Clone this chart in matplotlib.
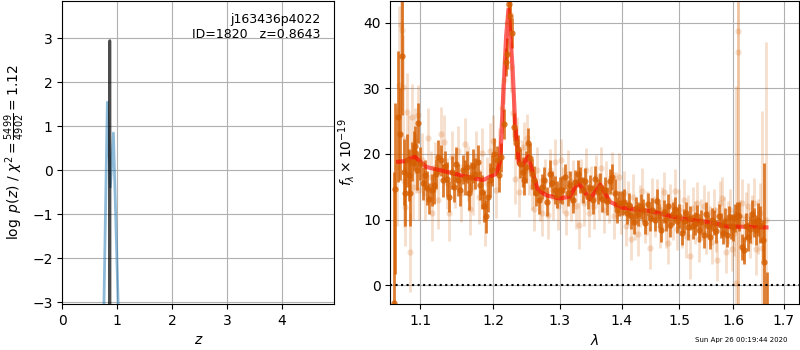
import numpy as np
import matplotlib
matplotlib.use('Agg')
import matplotlib.pyplot as plt
from matplotlib.ticker import FixedLocator, FixedFormatter, NullLocator

# --- p(z) panel ---
z_coarse = [0.740, 0.755, 0.820, 0.875, 0.930, 1.020, 1.040]
lnp_coarse = [-6.0, -3.2, 1.55, -0.38, 0.85, -3.2, -6.0]
z_fine = [0.8620, 0.8643, 0.8666]
lnp_fine = [-6.0, 2.95, -6.0]
z_best = 0.8643
obj_root = 'j163436p4022'
obj_id = 1820
chi2_num, chi2_den = 5499, 4902

# --- spectrum, first set (dark) ---
wave_a = [1.0655, 1.0675, 1.0710, 1.0735, 1.0755, 1.0780, 1.0800, 1.0820, 1.0845, 1.0865,
          1.0890, 1.0910, 1.0935, 1.0955, 1.0975, 1.1000,
          1.103, 1.106, 1.109, 1.112, 1.115, 1.118, 1.121, 1.124, 1.127, 1.130,
          1.133, 1.136, 1.139, 1.142, 1.145, 1.148, 1.151, 1.154, 1.157, 1.160,
          1.163, 1.166, 1.169, 1.172, 1.175, 1.178, 1.181, 1.184, 1.187, 1.190,
          1.193, 1.196, 1.199, 1.202, 1.205, 1.208,
          1.2115, 1.2158, 1.2184, 1.2200, 1.2225, 1.2250, 1.2276, 1.2306, 1.2341, 1.2370,
          1.2400, 1.2431, 1.2460, 1.2490, 1.2514, 1.2540, 1.2570, 1.2600,
          1.264, 1.268, 1.272, 1.276, 1.280, 1.284, 1.288, 1.292, 1.296, 1.300,
          1.304, 1.308, 1.312, 1.316, 1.320, 1.324, 1.328, 1.332, 1.336, 1.340,
          1.344, 1.348, 1.352, 1.356, 1.360, 1.364, 1.368, 1.372, 1.376, 1.380,
          1.384, 1.388, 1.392, 1.396,
          1.400, 1.404, 1.408, 1.412, 1.416, 1.420, 1.424, 1.428, 1.432, 1.436,
          1.440, 1.444, 1.448, 1.452, 1.456, 1.460, 1.464, 1.468, 1.472, 1.476,
          1.480, 1.484, 1.488, 1.492, 1.496,
          1.500, 1.504, 1.508, 1.512, 1.516, 1.520, 1.524, 1.528, 1.532, 1.536,
          1.540, 1.544, 1.548, 1.552, 1.556, 1.560, 1.564, 1.568, 1.572, 1.576,
          1.580, 1.584, 1.588, 1.592, 1.596, 1.600, 1.604, 1.608, 1.612, 1.616,
          1.620, 1.624, 1.628, 1.632, 1.636, 1.640, 1.644, 1.648, 1.652, 1.658,
          1.660, 1.6655]
flux_a = [-2.8, 14.7, 25.7, 23.0, 35.0, 17.2, 14.0, 19.0, 16.8, 14.0,
          18.8, 20.5, 21.2, 17.5, 24.7, 18.5,
          15.5, 16.8, 14.8, 13.2, 14.5, 15.2, 17.0, 19.5, 19.0, 16.0,
          18.2, 16.2, 13.5, 17.2, 15.0, 18.5, 16.0, 14.5, 17.6, 16.4,
          18.0, 14.0, 16.5, 18.2, 17.0, 18.8, 15.2, 14.2, 12.0, 10.5,
          13.5, 16.0, 17.5, 20.0, 19.0, 16.8,
          19.5, 24.6, 34.0, 35.3, 42.9, 41.0, 38.4, 24.1, 21.6, 20.7,
          18.5, 17.3, 16.0, 18.0, 21.6, 19.4, 17.0, 16.0,
          14.0, 13.0, 15.0, 16.0, 12.7, 17.0, 15.5, 14.5, 13.8, 14.5,
          14.5, 16.5, 14.0, 15.2, 13.0, 15.7, 17.0, 16.0, 14.5, 15.8,
          13.5, 14.8, 13.0, 16.2, 14.2, 15.0, 13.2, 14.5, 12.8, 15.8,
          16.5, 14.0, 11.5, 12.5,
          12.5, 12.7, 11.0, 12.2, 10.5, 9.6, 11.8, 10.8, 12.0, 11.4,
          9.5, 12.3, 10.2, 11.5, 9.9, 12.8, 10.6, 8.4, 11.2, 10.0,
          12.0, 9.2, 10.9, 11.6, 9.8,
          10.5, 8.0, 9.8, 11.0, 8.8, 10.2, 9.0, 9.4, 10.5, 8.4,
          9.6, 7.6, 10.8, 9.0, 7.4, 10.0, 9.5, 8.2, 10.6, 9.1,
          8.0, 9.8, 7.6, 10.4, 9.0, 8.8, 10.2, 10.7, 10.5, 5.8,
          5.3, 9.0, 7.4, 8.5, 10.9, 9.6, 8.4, 10.0, 9.2, 6.9,
          3.6, -4.0]
err_a = [20.0, 13.0, 10.0, 7.0, 9.0, 5.0, 5.0, 4.0, 4.0, 5.0,
         3.0, 3.0, 3.0, 3.0, 3.0, 2.5,
         2.5, 2.2, 2.6, 2.4, 2.5, 2.8, 2.3, 2.6, 2.4, 2.5,
         2.2, 2.6, 2.4, 2.5, 2.3, 2.6, 2.4, 2.5, 2.2, 2.6,
         2.4, 2.5, 2.3, 2.6, 2.4, 2.5, 2.2, 2.6, 2.4, 2.5,
         2.3, 2.6, 2.4, 2.5, 2.2, 2.6,
         2.2, 2.3, 2.2, 2.4, 2.3, 2.2, 2.3, 2.2, 2.4, 2.2,
         2.2, 2.3, 2.2, 2.4, 2.3, 2.2, 2.3, 2.2,
         2.0, 2.1, 1.9, 2.0, 2.2, 2.0, 1.9, 2.1, 2.0, 2.0,
         2.1, 1.9, 2.0, 2.2, 2.0, 1.9, 2.1, 2.0, 2.0, 2.1,
         1.9, 2.0, 2.2, 2.0, 1.9, 2.1, 2.0, 2.0, 2.1, 1.9,
         2.0, 2.2, 2.0, 1.9,
         1.8, 1.9, 1.7, 1.8, 1.9, 1.8, 1.7, 1.8, 1.9, 1.8,
         1.7, 1.8, 1.9, 1.8, 1.7, 1.8, 1.9, 1.8, 1.7, 1.8,
         1.9, 1.8, 1.7, 1.8, 1.9,
         1.8, 1.9, 1.8, 1.7, 1.9, 1.8, 1.9, 1.8, 1.7, 1.9,
         1.8, 1.9, 1.8, 1.7, 1.9, 1.8, 1.9, 1.8, 1.7, 1.9,
         1.8, 1.9, 1.8, 1.7, 1.9, 2.0, 2.1, 2.0, 2.2, 2.0,
         2.1, 2.0, 2.2, 2.1, 2.0, 2.2, 2.3, 2.5, 2.8, 3.0,
         15.0, 6.0]

# --- spectrum, second set (light) ---
wave_b = [1.0700, 1.0725, 1.0745, 1.0760, 1.0775, 1.0790, 1.0805, 1.0825, 1.0850, 1.0868,
          1.0885, 1.0905, 1.0925, 1.0945, 1.0965, 1.0985,
          1.1015, 1.1055, 1.1095, 1.1135, 1.1160, 1.1200, 1.1240, 1.1280, 1.1310, 1.1350,
          1.1390, 1.1430, 1.1470, 1.1510, 1.1550, 1.1600, 1.1640, 1.1680, 1.1720, 1.1760,
          1.1800, 1.1840, 1.1880, 1.1920, 1.1960, 1.2000, 1.2040, 1.2080,
          1.2135, 1.2165, 1.2205, 1.2240, 1.2265, 1.2290, 1.2320, 1.2350, 1.2380, 1.2420,
          1.2460, 1.2500, 1.2530, 1.2570,
          1.2610, 1.2650, 1.2690, 1.2730, 1.2770, 1.2810, 1.2850, 1.2890, 1.2930, 1.2970,
          1.3010, 1.3050, 1.3090, 1.3130, 1.3170, 1.3210, 1.3250, 1.3300, 1.3340, 1.3380,
          1.3420, 1.3460, 1.3500, 1.3540, 1.3580, 1.3620, 1.3660, 1.3700, 1.3740, 1.3780,
          1.3830, 1.3870, 1.3910, 1.3950,
          1.3990, 1.4030, 1.4070, 1.4110, 1.4150, 1.4190, 1.4230, 1.4270, 1.4310, 1.4350,
          1.4390, 1.4430, 1.4480, 1.4520, 1.4560, 1.4600, 1.4650, 1.4690, 1.4730, 1.4770,
          1.4800, 1.4840, 1.4880, 1.4920, 1.4960,
          1.5000, 1.5040, 1.5080, 1.5120, 1.5160, 1.5200, 1.5240, 1.5280, 1.5320, 1.5360,
          1.5400, 1.5440, 1.5480, 1.5520, 1.5560, 1.5600, 1.5640, 1.5680, 1.5700, 1.5740,
          1.5780, 1.5820, 1.5860, 1.5900, 1.5940, 1.5980, 1.6020, 1.6045, 1.6085, 1.6095,
          1.6130, 1.6170, 1.6210, 1.6250, 1.6290, 1.6330, 1.6370, 1.6410, 1.6450, 1.6490,
          1.6530, 1.6570, 1.6650]
flux_b = [18.0, 30.5, 39.6, 38.9, 30.2, 15.8, 11.9, 26.4, 20.0, 5.0,
          25.7, 15.0, 22.0, 18.5, 26.0, 14.5,
          19.0, 14.0, 22.5, 16.5, 11.0, 18.0, 13.0, 23.1, 21.8, 15.5,
          11.0, 19.5, 16.0, 20.5, 14.0, 21.5, 17.0, 11.6, 15.0, 19.5,
          13.5, 20.2, 10.3, 15.5, 20.5, 22.0, 14.5, 20.0,
          27.0, 31.2, 40.0, 41.3, 33.3, 26.2, 16.2, 22.0, 14.2, 18.5,
          21.0, 22.5, 17.5, 15.0,
          11.6, 17.5, 13.0, 11.0, 15.8, 10.7, 17.5, 13.5, 18.8, 12.0,
          19.0, 14.5, 11.0, 17.0, 13.0, 15.5, 12.0, 9.1, 16.0, 12.5,
          17.5, 11.0, 14.8, 12.0, 16.5, 13.5, 17.8, 11.5, 15.5, 13.0,
          17.0, 10.5, 13.8, 16.5,
          11.0, 14.0, 9.0, 12.5, 7.1, 13.5, 10.0, 7.8, 12.0, 14.4,
          9.5, 11.0, 5.6, 13.0, 10.5, 12.8, 8.8, 11.5, 14.2, 9.0,
          6.4, 12.0, 10.0, 14.4, 8.5,
          11.5, 9.0, 13.0, 7.5, 10.5, 4.4, 11.8, 9.5, 12.5, 7.0,
          10.0, 12.0, 8.0, 11.0, 9.0, 6.5, 11.5, 8.5, 3.8, 12.5,
          13.3, 10.0, 5.0, 9.5, 11.5, 5.5, 8.0, 0.3, 38.7, 35.5,
          9.5, 12.5, 7.0, 10.5, 12.0, 8.0, 10.0, 12.5, 5.5, 9.0,
          11.0, 5.6, 10.0]
err_b = [9.0, 12.0, 10.0, 9.0, 8.0, 7.0, 6.0, 6.0, 6.0, 6.0,
         5.0, 5.0, 5.0, 4.5, 4.5, 4.5,
         4.2, 4.0, 4.5, 4.0, 4.2, 3.8, 4.4, 4.0, 4.2, 3.9,
         4.3, 4.0, 4.2, 3.8, 4.4, 4.0, 4.2, 3.9, 4.3, 4.0,
         4.2, 3.8, 4.4, 4.0, 4.2, 3.9, 4.3, 4.0,
         3.8, 3.6, 3.8, 3.6, 3.8, 3.6, 3.8, 3.6, 3.8, 3.6,
         3.8, 3.6, 3.8, 3.6,
         3.4, 3.6, 3.3, 3.5, 3.4, 3.6, 3.3, 3.5, 3.4, 3.6,
         3.3, 3.5, 3.4, 3.6, 3.3, 3.5, 3.4, 3.6, 3.3, 3.5,
         3.4, 3.6, 3.3, 3.5, 3.4, 3.6, 3.3, 3.5, 3.4, 3.6,
         3.3, 3.5, 3.4, 3.6,
         3.2, 3.4, 3.1, 3.3, 3.2, 3.4, 3.1, 3.3, 3.2, 3.4,
         3.1, 3.3, 3.2, 3.4, 3.1, 3.3, 3.2, 3.4, 3.1, 3.3,
         3.2, 3.4, 3.1, 3.3, 3.2,
         3.2, 3.4, 3.1, 3.3, 3.2, 3.4, 3.1, 3.3, 3.2, 3.4,
         3.1, 3.3, 3.2, 3.4, 3.1, 3.3, 3.2, 3.4, 3.1, 3.3,
         3.2, 3.4, 3.1, 3.3, 3.2, 3.4, 3.5, 30.0, 45.0, 40.0,
         3.5, 3.6, 3.5, 3.7, 3.6, 3.8, 3.7, 3.9, 4.0, 4.2,
         4.5, 21.0, 27.0]

# --- best-fit model ---
wave_model = [1.0709, 1.0800, 1.0925, 1.1079, 1.1345, 1.1600, 1.1857, 1.2050, 1.2104, 1.2144,
              1.2190, 1.2225, 1.2283, 1.2324, 1.2380, 1.2431, 1.2514, 1.2587, 1.2662, 1.2790,
              1.3000, 1.3155, 1.3286, 1.3473, 1.3647, 1.3800, 1.4012, 1.4476, 1.5000, 1.5618,
              1.5900, 1.6200, 1.6650]
flux_model = [18.8, 18.9, 19.6, 18.0, 17.3, 16.6, 16.0, 17.0, 19.0, 28.2,
              38.0, 42.0, 33.3, 24.1, 18.5, 18.3, 19.6, 17.0, 14.5, 13.7,
              13.2, 13.5, 15.7, 13.1, 15.3, 12.7, 11.8, 11.3, 10.2, 9.5,
              8.9, 8.9, 8.8]

timestamp = 'Sun Apr 26 00:19:44 2020'
wave_ticks = [1.1, 1.2, 1.3, 1.4, 1.5, 1.6, 1.7]
grism_color = (0.8352941176470589, 0.3686274509803922, 0.0)

fig = plt.figure(figsize=(8, 3.5), dpi=100)
ax1 = fig.add_axes([0.078, 0.131, 0.340, 0.866])
ax2 = fig.add_axes([0.488, 0.131, 0.511, 0.866])

# p(z)
ax1.plot(z_coarse, lnp_coarse, color='tab:blue', alpha=0.5, lw=2)
ax1.plot(z_fine, lnp_fine, color='k', alpha=0.7, lw=2)
ax1.set_xlim(0, 4.96)
ax1.set_ylim(-3.04, 3.85)
ax1.grid()
ax1.set_xlabel(r'$z$')
ax1.set_ylabel(r'$\log\ p(z)$' + ' / ' +
               r'$\chi^2=\frac{%d}{%d}=%.2f$' % (chi2_num, chi2_den, chi2_num / chi2_den))
ax1.text(0.95, 0.96, '%s\nID=%d   z=%.4f' % (obj_root, obj_id, z_best),
         ha='right', va='top', transform=ax1.transAxes, fontsize=9)

# spectrum
ax2.errorbar(wave_b, flux_b, err_b, color=grism_color, alpha=0.2, marker='o', ms=4.5,
             linestyle='none', elinewidth=2, mec='none')
ax2.errorbar(wave_a, flux_a, err_a, color=grism_color, alpha=0.8, marker='o', ms=4.5,
             linestyle='none', elinewidth=2, mec='none')
ax2.plot(wave_model, flux_model, color='r', alpha=0.6, lw=3)
ax2.axhline(0, color='k', linestyle=':', lw=1.5)

ax2.set_xscale('log')
ax2.set_xlim(1.0612, 1.7315)
ax2.set_ylim(-2.9, 43.3)
ax2.xaxis.set_major_locator(FixedLocator(wave_ticks))
ax2.xaxis.set_major_formatter(FixedFormatter(['%.1f' % w for w in wave_ticks]))
ax2.xaxis.set_minor_locator(NullLocator())
ax2.grid()
ax2.set_xlabel(r'$\lambda$')
ax2.set_ylabel(r'$f_\lambda\times10^{-19}$')

fig.text(0.984, 0.028, timestamp, ha='right', va='center', fontsize=5)

fig.savefig('out.png')
